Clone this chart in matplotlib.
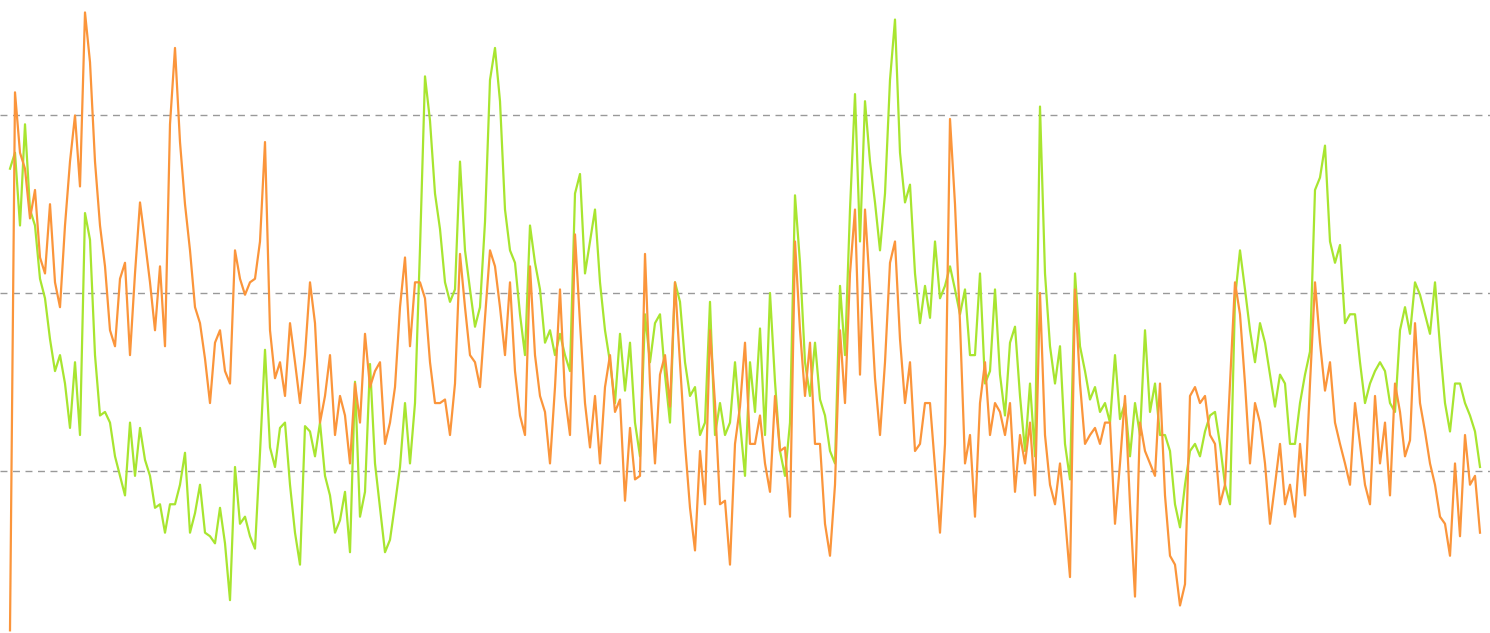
import matplotlib
matplotlib.use("Agg")
import matplotlib.pyplot as plt
from matplotlib.ticker import MultipleLocator
import numpy as np

# 两条序列，读数按等间隔采样
orange = [
    10, 313, 279, 270, 242, 258, 220, 211, 250, 206,
    192, 238, 274, 300, 260, 358, 330, 274, 238, 215,
    179, 170, 208, 217, 165, 211, 251, 229, 206, 179,
    215, 170, 295, 338, 285, 250, 224, 192, 183, 163,
    138, 172, 179, 156, 149, 224, 208, 199, 206, 208,
    229, 285, 179, 152, 161, 142, 183, 161, 138, 165,
    206, 183, 127, 142, 165, 120, 142, 131, 104, 149,
    127, 177, 147, 156, 161, 115, 127, 147, 192, 220,
    170, 206, 206, 197, 161, 138, 138, 140, 120, 149,
    222, 192, 165, 161, 147, 186, 224, 215, 192, 165,
    206, 156, 131, 120, 215, 165, 142, 133, 104, 147,
    202, 142, 120, 233, 183, 138, 113, 142, 104, 147,
    165, 133, 140, 83, 124, 95, 97, 222, 149, 104,
    154, 165, 136, 206, 161, 115, 79, 55, 111, 81,
    179, 138, 81, 83, 47, 115, 136, 172, 115, 115,
    131, 104, 88, 142, 111, 113, 74, 229, 179, 142,
    172, 115, 115, 70, 52, 92, 179, 138, 211, 247,
    154, 247, 202, 152, 120, 161, 217, 229, 174, 138,
    161, 111, 115, 138, 138, 102, 65, 115, 298, 250,
    183, 104, 120, 74, 138, 161, 120, 138, 133, 120,
    138, 88, 120, 104, 127, 86, 200, 120, 92, 81,
    104, 74, 40, 202, 149, 115, 120, 124, 115, 127,
    127, 70, 104, 142, 81, 29, 127, 111, 104, 97,
    149, 86, 52, 47, 24, 36, 142, 147, 138, 142,
    120, 115, 81, 92, 149, 206, 188, 149, 104, 138,
    127, 104, 70, 92, 115, 81, 92, 74, 115, 86,
    149, 206, 172, 145, 161, 127, 115, 104, 92, 138,
    115, 92, 81, 142, 104, 127, 86, 149, 133, 108,
    117, 183, 138, 122, 104, 92, 74, 70, 52, 104,
    63, 120, 92, 97, 65,
]

green = [
    270, 279, 238, 295, 247, 238, 208, 197, 174, 156,
    165, 149, 124, 161, 120, 245, 230, 165, 131, 133,
    127, 108, 97, 86, 127, 97, 124, 106, 97, 79,
    81, 65, 81, 81, 92, 110, 65, 76, 92, 65,
    63, 59, 79, 59, 27, 102, 70, 74, 63, 56,
    110, 168, 113, 102, 124, 127, 92, 65, 47, 125,
    122, 108, 127, 97, 86, 65, 72, 88, 54, 150,
    74, 88, 160, 104, 79, 54, 61, 81, 102, 138,
    104, 138, 225, 322, 297, 256, 236, 206, 195, 202,
    274, 224, 202, 181, 192, 240, 320, 338, 308, 247,
    224, 217, 188, 165, 238, 217, 202, 172, 179, 165,
    177, 165, 156, 256, 267, 211, 229, 247, 206, 179,
    161, 138, 177, 145, 172, 127, 108, 188, 161, 183,
    188, 154, 127, 206, 195, 161, 142, 147, 120, 127,
    195, 120, 138, 120, 127, 161, 127, 97, 161, 133,
    180, 120, 200, 150, 111, 97, 127, 255, 217, 161,
    142, 172, 140, 131, 111, 104, 204, 165, 247, 312,
    229, 308, 274, 251, 224, 256, 320, 354, 279, 251,
    261, 211, 183, 204, 186, 229, 197, 204, 215, 202,
    188, 202, 165, 165, 211, 149, 156, 202, 154, 131,
    172, 181, 142, 111, 149, 108, 305, 211, 170, 149,
    170, 115, 95, 211, 170, 156, 140, 147, 133, 138,
    127, 165, 129, 138, 108, 138, 120, 179, 133, 149,
    120, 120, 111, 81, 68, 92, 111, 115, 108, 122,
    131, 133, 115, 92, 81, 197, 224, 202, 179, 161,
    183, 172, 154, 136, 154, 149, 115, 115, 138, 154,
    167, 258, 265, 283, 229, 217, 227, 183, 188, 188,
    161, 138, 149, 156, 161, 156, 138, 133, 179, 192,
    177, 206, 199, 188, 177, 206, 170, 138, 122, 149,
    149, 138, 131, 122, 102,
]

x = np.arange(len(orange))

fig = plt.figure(figsize=(14.9, 6.33), dpi=100)
ax = fig.add_axes([0, 0, 1, 1])

ax.plot(x, green, color='#a8e530', linewidth=1.6, zorder=3)
ax.plot(x, orange, color='#fb953b', linewidth=1.6, zorder=4)

# 只保留横向虚线网格
ax.set_xlim(-2, 296)
ax.set_ylim(8.5, 365)
ax.yaxis.set_major_locator(MultipleLocator(100))
ax.grid(axis='y', color='#999999', linewidth=1, linestyle=(0, (5, 4)), zorder=1)
ax.set_axisbelow(True)
ax.tick_params(left=False, bottom=False, labelleft=False, labelbottom=False)
ax.set_xticks([])
for s in ax.spines.values():
    s.set_visible(False)

plt.savefig('out.png', dpi=100)
